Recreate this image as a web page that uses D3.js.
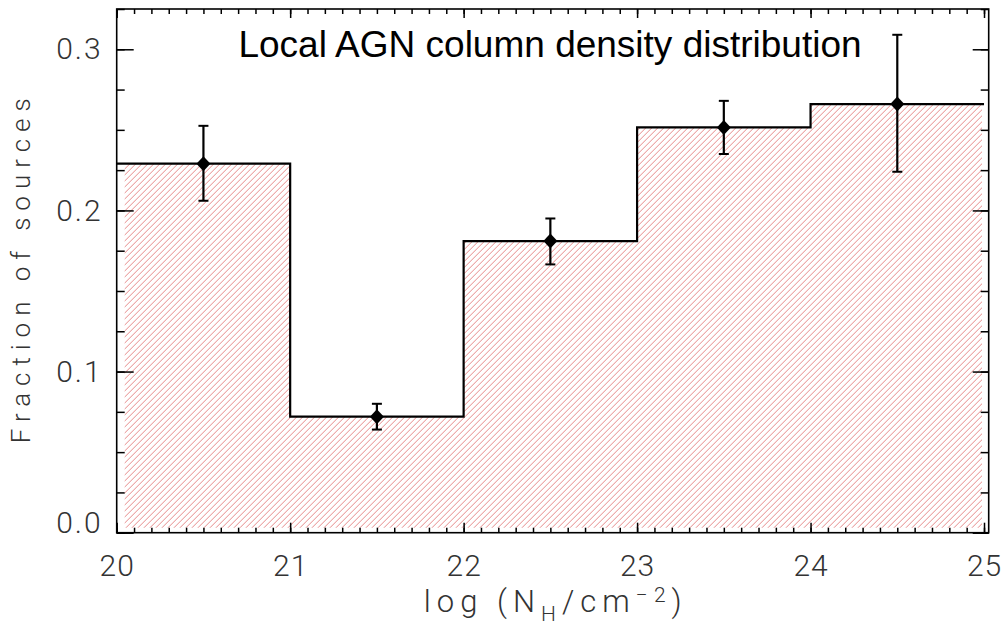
<!DOCTYPE html>
<html>
<head>
<meta charset="utf-8">
<script src="https://cdn.jsdelivr.net/npm/d3@7"></script>
<style>
  html, body { margin: 0; padding: 0; background: #fff; }
  svg { display: block; }
  .tick-label { font-family: Roboto, "DejaVu Sans", sans-serif; font-weight: 300; fill: #333; }
</style>
</head>
<body>
<svg id="chart" width="1004" height="631"></svg>
<script>
// Column density bins (log N_H edges) and the fraction of sources in each
const binEdges = [20, 21, 22, 23, 24, 25];
const fraction = [0.229, 0.072, 0.181, 0.2515, 0.266];
const errLower = [0.206, 0.064, 0.1665, 0.235, 0.224];
const errUpper = [0.2525, 0.080, 0.195, 0.268, 0.309];

const xMajorTicks = [20, 21, 22, 23, 24, 25];
const yMajorTicks = [0.0, 0.1, 0.2, 0.3];
const yTickLabels = ["0.0", "0.1", "0.2", "0.3"];

const titleText = "Local AGN column density distribution";
const yLabelText = "Fraction of sources";

const svg = d3.select("#chart");
const plot = { left: 116.7, right: 988.7, top: 9, bottom: 532.7 };

const x = d3.scaleLinear().domain([20, 25.027]).range([plot.left, plot.right]);
const y = d3.scaleLinear().domain([0, 0.325]).range([plot.bottom, plot.top]);

const xMinor = d3.range(20, 25.001, 0.1).map(v => +v.toFixed(2));
const yMinor = d3.range(0, 0.3251, 0.025).map(v => +v.toFixed(3));

// step histogram outline points
const steps = binEdges.map((e, i) => ({ x: e, v: fraction[Math.min(i, fraction.length - 1)] }));

const area = d3.area()
  .x(d => x(d.x)).y0(y(0)).y1(d => y(d.v))
  .curve(d3.curveStepAfter);

// clip regions for the hatched fill: under the histogram, slightly inset from the frame
const defs = svg.append("defs");
defs.append("clipPath").attr("id", "histClip")
  .append("path").datum(steps).attr("d", area);
defs.append("clipPath").attr("id", "insetClip")
  .append("rect")
  .attr("x", x(20) + 8).attr("y", plot.top)
  .attr("width", x(25) - x(20) - 10)
  .attr("height", plot.bottom - plot.top - 5);

// diagonal hatch lines, 6 px apart horizontally, drawn at 45 degrees
const hatchGap = 6;
const span = plot.bottom - plot.top;
const hatchStarts = d3.range(plot.left - span, plot.right, hatchGap);
svg.append("g").attr("clip-path", "url(#insetClip)")
  .append("g").attr("clip-path", "url(#histClip)")
  .selectAll("line").data(hatchStarts).join("line")
  .attr("x1", d => d).attr("y1", plot.bottom)
  .attr("x2", d => d + span).attr("y2", plot.top)
  .attr("stroke", "#e68a8a").attr("stroke-width", 1);

const line = d3.line()
  .x(d => x(d.x)).y(d => y(d.v))
  .curve(d3.curveStepAfter);

svg.append("path")
  .datum(steps)
  .attr("d", line)
  .attr("fill", "none")
  .attr("stroke", "#000")
  .attr("stroke-width", 2.2);

// axes on all four sides, with inward major and minor ticks
function tickAxis(axisFn, scale, values, size, translate) {
  const g = svg.append("g")
    .attr("transform", translate)
    .call(axisFn(scale).tickValues(values).tickSize(size).tickFormat(""));
  g.select(".domain").remove();
  g.selectAll(".tick line").attr("stroke", "#000").attr("stroke-width", 1.5);
  return g;
}

tickAxis(d3.axisBottom, x, xMinor, -5, `translate(0,${plot.bottom})`);
tickAxis(d3.axisBottom, x, xMajorTicks, -10, `translate(0,${plot.bottom})`);
tickAxis(d3.axisTop, x, xMinor, -5, `translate(0,${plot.top})`);
tickAxis(d3.axisTop, x, xMajorTicks, -9, `translate(0,${plot.top})`);
tickAxis(d3.axisLeft, y, yMinor, -8, `translate(${plot.left},0)`);
tickAxis(d3.axisLeft, y, yMajorTicks, -17, `translate(${plot.left},0)`);
tickAxis(d3.axisRight, y, yMinor, -8, `translate(${plot.right},0)`);
tickAxis(d3.axisRight, y, yMajorTicks, -16, `translate(${plot.right},0)`);

// frame
svg.append("rect")
  .attr("x", plot.left).attr("y", plot.top)
  .attr("width", plot.right - plot.left).attr("height", plot.bottom - plot.top)
  .attr("fill", "none").attr("stroke", "#000").attr("stroke-width", 1.6);

// tick labels
const xLab = d3.axisBottom(x).tickValues(xMajorTicks).tickSize(0).tickPadding(22).tickFormat(d3.format("d"));
const gxl = svg.append("g").attr("transform", `translate(0,${plot.bottom})`).call(xLab);
gxl.select(".domain").remove();
gxl.selectAll("text").attr("class", "tick-label").attr("font-size", 30)
  .attr("letter-spacing", "1px").attr("dy", "0.72em");

const yLab = d3.axisLeft(y).tickValues(yMajorTicks).tickSize(0).tickPadding(14)
  .tickFormat((d, i) => yTickLabels[i]);
const gyl = svg.append("g").attr("transform", `translate(${plot.left},0)`).call(yLab);
gyl.select(".domain").remove();
gyl.selectAll("text").attr("class", "tick-label").attr("font-size", 30)
  .attr("letter-spacing", "2px")
  .attr("dy", d => d === 0 ? "0.0em" : "0.32em");

// error bars and diamond markers at bin centres
const mids = fraction.map((v, i) => ({
  c: (binEdges[i] + binEdges[i + 1]) / 2, v, lo: errLower[i], hi: errUpper[i]
}));

const eb = svg.append("g");
eb.selectAll("line.err").data(mids).join("line")
  .attr("x1", d => x(d.c)).attr("x2", d => x(d.c))
  .attr("y1", d => y(d.lo)).attr("y2", d => y(d.hi))
  .attr("stroke", "#000").attr("stroke-width", 2.2);
["lo", "hi"].forEach(k => {
  eb.selectAll("line.cap-" + k).data(mids).join("line")
    .attr("x1", d => x(d.c) - 5).attr("x2", d => x(d.c) + 5)
    .attr("y1", d => y(d[k])).attr("y2", d => y(d[k]))
    .attr("stroke", "#000").attr("stroke-width", 2);
});
eb.selectAll("path.mk").data(mids).join("path")
  .attr("transform", d => `translate(${x(d.c)},${y(d.v)})`)
  .attr("d", "M0,-7.5L7,0L0,7.5L-7,0Z")
  .attr("fill", "#000");

// title
svg.append("text")
  .attr("x", 550).attr("y", 56.7)
  .attr("text-anchor", "middle")
  .attr("font-family", "'Liberation Sans', Arial, sans-serif")
  .attr("font-size", 37)
  .attr("fill", "#000")
  .text(titleText);

// axis titles
svg.append("text")
  .attr("class", "tick-label")
  .attr("transform", `translate(30,${(plot.top + plot.bottom) / 2}) rotate(-90)`)
  .attr("text-anchor", "middle")
  .attr("font-size", 26)
  .attr("textLength", 345)
  .attr("lengthAdjust", "spacing")
  .text(yLabelText);

const xt = svg.append("text")
  .attr("class", "tick-label")
  .attr("x", (plot.left + plot.right) / 2).attr("y", 612)
  .attr("text-anchor", "middle")
  .attr("font-size", 31)
  .attr("textLength", 258)
  .attr("lengthAdjust", "spacing");
xt.append("tspan").text("log (N");
xt.append("tspan").attr("font-size", 21).attr("dy", 9).text("H");
xt.append("tspan").attr("dy", -9).text("/cm");
xt.append("tspan").attr("font-size", 21).attr("dy", -10).text("\u22122");
xt.append("tspan").attr("dy", 10).text(")");
</script>
</body>
</html>
